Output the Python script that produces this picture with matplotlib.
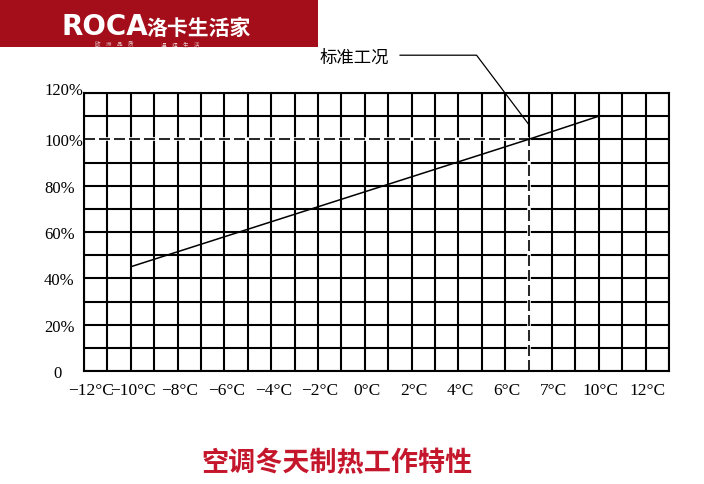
import matplotlib
matplotlib.use('Agg')
import matplotlib.pyplot as plt
import matplotlib.transforms as mtrans
from matplotlib.patches import Rectangle
import numpy as np

# ---- data ----
temps = [-10, 7, 10]          # outdoor temperature (°C)
capacity = [45, 100, 110]     # heating capacity (%)
std_temp = 7                  # standard condition temperature
std_cap = 100                 # standard condition capacity
x_ticks = [-12, -10, -8, -6, -4, -2, 0, 2, 4, 6, 7, 10, 12]
x_labels = ['−12°C', '−10°C', '−8°C', '−6°C', '−4°C', '−2°C', '0°C',
            '2°C', '4°C', '6°C', '7°C', '10°C', '12°C']
y_ticks = [0, 20, 40, 60, 80, 100, 120]
y_labels = ['0', '20%', '40%', '60%', '80%', '100%', '120%']
title = '空调冬天制热工作特性'
annot = '标准工况'

CJK = ['Noto Sans CJK SC', 'DejaVu Sans']
W, H = 704, 485
fig = plt.figure(figsize=(W / 100, H / 100), dpi=100)
fig.patch.set_facecolor('white')

ax = fig.add_axes([84 / W, (H - 372) / H, 585 / W, 278 / H])
ax.set_xlim(-12, 13)
ax.set_ylim(0, 120)
ax.set_xticks(np.arange(-12, 14, 1), minor=True)
ax.set_yticks(np.arange(0, 121, 10), minor=True)
ax.set_xticks(x_ticks)
ax.set_xticklabels(x_labels, fontfamily='Liberation Serif', fontsize=12.5)
ax.set_yticks(y_ticks)
ax.set_yticklabels(y_labels, fontfamily='Liberation Serif', fontsize=12)
ax.grid(which='both', color='black', lw=1.5)
ax.set_axisbelow(True)
ax.tick_params(which='both', length=0)
ax.tick_params(axis='x', pad=8)
ax.tick_params(axis='y', pad=28.8)
for lab in ax.get_yticklabels():
    lab.set_horizontalalignment('left')
for sp in ax.spines.values():
    sp.set_linewidth(1.5)
    sp.set_zorder(6)

# per-label small offsets
for lab, v in zip(ax.get_xticklabels(), x_ticks):
    dx = 2 / 100
    if v == 7:
        dx = 25 / 100
    if v == -12:
        dx = 7 / 100
    lab.set_transform(lab.get_transform() + mtrans.ScaledTranslation(dx, 0, fig.dpi_scale_trans))
for lab, v in zip(ax.get_yticklabels(), y_ticks):
    dx, dy = 0, 0
    if v == 0:
        dx = 9 / 100
    if v == 120:
        dy = 5 / 100
    lab.set_transform(lab.get_transform() + mtrans.ScaledTranslation(dx, dy, fig.dpi_scale_trans))

# standard condition dashed guides (replace grid lines)
ax.plot([-12, std_temp], [std_cap, std_cap], color='white', lw=2.6, zorder=3, solid_capstyle='butt')
ax.plot([std_temp, std_temp], [0, std_cap], color='white', lw=2.6, zorder=3, solid_capstyle='butt')
ax.plot([-12, std_temp], [std_cap, std_cap], color='black', lw=1.2, zorder=4, dashes=(6.6, 2.4))
ax.plot([std_temp, std_temp], [0, std_cap], color='black', lw=1.2, zorder=4, dashes=(6.6, 2.4))

# characteristic line
ax.plot(temps, capacity, color='black', lw=1.1, zorder=5)

# annotation
ax.annotate(annot, xy=(std_temp, 106.5), xycoords='data',
            xytext=(354, H - 58), textcoords='figure pixels',
            ha='center', va='center', fontsize=12.5, family=CJK,
            arrowprops=dict(arrowstyle='-', color='black', lw=0.9,
                            relpos=(1, 0.6), shrinkA=6, shrinkB=0,
                            connectionstyle='angle,angleA=0,angleB=127,rad=0'),
            annotation_clip=False)

# header banner
fig.patches.append(Rectangle((0, 1 - 48 / H), 318 / W, 48 / H, transform=fig.transFigure,
                             facecolor='#A30E1A', edgecolor='none', zorder=0))
fig.text(61 / W, 1 - 35 / H, 'ROCA', color='white', fontsize=20, fontweight='bold',
         family='DejaVu Sans', ha='left', va='baseline')
fig.text(146 / W, 1 - 35 / H, '洛卡生活家', color='white', fontsize=15, fontweight='bold',
         family=CJK, ha='left', va='baseline')
fig.text(114.5 / W, 1 - 44 / H, '欧\u3000洲\u3000品\u3000质', color='#E8D0D0', fontsize=4.0,
         family=CJK, ha='center', va='center')
fig.text(180.5 / W, 1 - 44 / H, '温\u3000润\u3000生\u3000活', color='#E8D0D0', fontsize=4.0,
         family=CJK, ha='center', va='center')

# title
fig.text(336.5 / W, 1 - 463 / H, title, color='#C4172C', fontsize=19.5, fontweight='bold',
         family=CJK, ha='center', va='center')

fig.savefig('out.png', dpi=100, facecolor='white')
